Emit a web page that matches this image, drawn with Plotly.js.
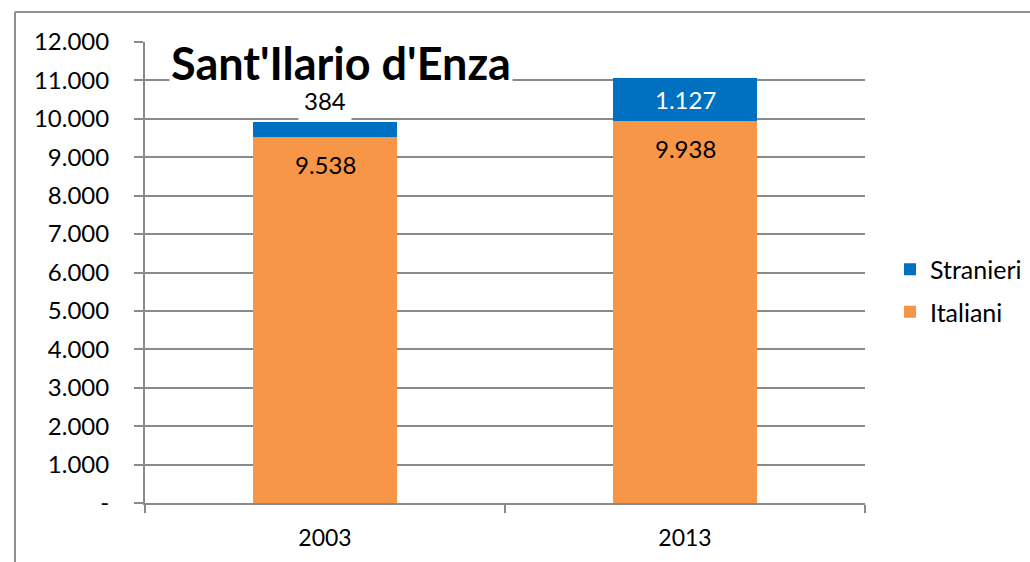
<!DOCTYPE html>
<html><head><meta charset="utf-8">
<script src="https://cdn.plot.ly/plotly-3.0.1.min.js"></script>
<style>html,body{margin:0;padding:0;background:#fff;}#chart{width:1030px;height:562px;}</style>
</head><body><div id="chart"></div>
<script>
const years = ['2003', '2013'];
const italiani = [9538, 9938];
const stranieri = [384, 1127];
const italianiLabels = ['9.538', '9.938'];
const stranieriLabels = ['384', '1.127'];
const yTickVals = [0,1000,2000,3000,4000,5000,6000,7000,8000,9000,10000,11000,12000];
const yTickText = ['-','1.000','2.000','3.000','4.000','5.000','6.000','7.000','8.000','9.000','10.000','11.000','12.000'];
const chartTitle = "Sant'Ilario d'Enza";

const FONT = 'Lato, "Open Sans", sans-serif';
const ORANGE = '#F79646', BLUE = '#0070C0', GRID = '#8a8a8a';

const traces = [
  {type:'bar', name:'Italiani', x:years, y:italiani, marker:{color:ORANGE}, width:0.4, legendgroup:'a', legendrank:2, hoverinfo:'none'},
  {type:'bar', name:'Stranieri', x:years, y:stranieri, marker:{color:BLUE}, width:0.4, legendgroup:'b', legendrank:1, hoverinfo:'none'}
];

const annotations = [];
years.forEach((yr, i) => {
  annotations.push({x:i, y:italiani[i], xref:'x', yref:'y', text:italianiLabels[i], showarrow:false,
    yanchor:'top', yshift:-11, font:{family:FONT, size:24, color:'#000'}});
  if (i === 0) {
    annotations.push({x:i, y:italiani[i]+stranieri[i], xref:'x', yref:'y', text:stranieriLabels[i], showarrow:false,
      yanchor:'bottom', yshift:1, bgcolor:'#fff', borderpad:5, font:{family:FONT, size:24, color:'#000'}});
  } else {
    annotations.push({x:i, y:italiani[i]+stranieri[i]/2, xref:'x', yref:'y', text:stranieriLabels[i], showarrow:false,
      yanchor:'middle', font:{family:FONT, size:24, color:'#fff'}});
  }
});
annotations.push({x:(341-145)/720, y:(503-63)/461, xref:'paper', yref:'paper', text:'<b>'+chartTitle+'</b>', showarrow:false,
  xanchor:'center', yanchor:'middle', bgcolor:'#fff', borderpad:1, font:{family:FONT, size:45, color:'#000'}});

const layout = {
  width:1030, height:562,
  margin:{l:145, r:165, t:42, b:59, autoexpand:false},
  paper_bgcolor:'#fff', plot_bgcolor:'#fff',
  barmode:'stack',
  showlegend:true,
  legend:{x:(890-145)/720, y:(503-290.5)/461, xanchor:'left', yanchor:'middle', traceorder:'grouped', tracegroupgap:7,
    font:{family:FONT, size:25, color:'#000'}, bgcolor:'rgba(0,0,0,0)'},
  xaxis:{type:'category', range:[-0.5,1.5], autorange:false, showgrid:false, showline:true, linecolor:GRID, linewidth:2, ticks:'outside', tickson:'boundaries',
    ticklen:8, tickcolor:GRID, tickwidth:2, tickfont:{family:FONT, size:23, color:'#000'}, ticklabelstandoff:13,
    fixedrange:true},
  yaxis:{range:[0,12000], autorange:false, tickvals:yTickVals, ticktext:yTickText, showgrid:true, gridcolor:GRID, gridwidth:2,
    showline:true, linecolor:GRID, linewidth:2, ticks:'outside', ticklen:9, tickcolor:GRID, tickwidth:2,
    tickfont:{family:FONT, size:24, color:'#000'}, ticklabelstandoff:20, zeroline:false, fixedrange:true},
  annotations:annotations,
  shapes:[
    {type:'line', xref:'paper', yref:'paper', x0:(15-145)/720, x1:(1040-145)/720, y0:(503-12)/461, y1:(503-12)/461, line:{color:'#909090', width:2}},
    {type:'line', xref:'paper', yref:'paper', x0:(15-145)/720, x1:(15-145)/720, y0:(503-12)/461, y1:(503-570)/461, line:{color:'#909090', width:2}}
  ]
};
Plotly.newPlot('chart', traces, layout, {displayModeBar:false, staticPlot:true});
</script></body></html>
